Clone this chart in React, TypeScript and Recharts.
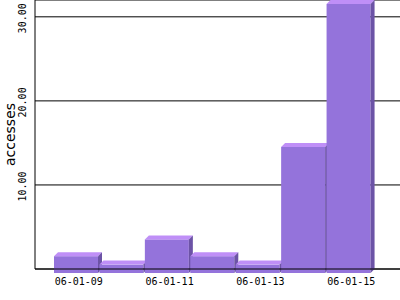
import React from 'react';
import { BarChart, Bar, XAxis, YAxis, CartesianGrid } from 'recharts';

const dates = ['06-01-09', '06-01-10', '06-01-11', '06-01-12', '06-01-13', '06-01-14', '06-01-15'];
const accesses = [2, 1, 4, 2, 1, 15, 32];
const yTicks = [10, 20, 30];

const data = dates.map((d, i) => ({ date: d, accesses: accesses[i] }));

const FRONT = '#9473DB';
const TOP = '#BF8FF7';
const SIDE = '#6C53A6';
const D = 4;

const Bar3D = (props: any) => {
  const { x, y, width, height } = props;
  if (height == null || height <= 0) return null;
  const w = width - 1;
  return (
    <g>
      <rect x={x - D} y={y + D} width={w} height={height} fill={FRONT} />
      <polygon
        points={`${x - D},${y + D} ${x},${y} ${x + w},${y} ${x + w - D},${y + D}`}
        fill={TOP}
      />
      <polygon
        points={`${x + w - D},${y + D} ${x + w},${y} ${x + w},${y + height} ${x + w - D},${y + height + D}`}
        fill={SIDE}
      />
    </g>
  );
};

const XTick = (props: any) => {
  const { x, payload } = props;
  return (
    <text x={x - 2} y={285} textAnchor="middle" fontFamily="DejaVu Sans Mono" fontSize={10} fill="#000">
      {payload.value}
    </text>
  );
};

const YTick = (props: any) => {
  const { y, payload } = props;
  const cx = 26;
  const cy = y + 1.5;
  return (
    <text
      x={cx}
      y={cy}
      textAnchor="middle"
      fontFamily="DejaVu Sans Mono"
      fontSize={10}
      fill="#000"
      transform={`rotate(-90, ${cx}, ${cy})`}
    >
      {Number(payload.value).toFixed(2)}
    </text>
  );
};

const YLabel = (props: any) => {
  const vb = props.viewBox || { x: 0, y: 0, width: 35, height: 269 };
  const cx = 15;
  const cy = vb.y + vb.height / 2;
  return (
    <text
      x={cx}
      y={cy}
      textAnchor="middle"
      fontFamily="DejaVu Sans"
      fontSize={14}
      fill="#000"
      transform={`rotate(-90, ${cx}, ${cy})`}
    >
      accesses
    </text>
  );
};

export default function App() {
  return (
    <div style={{ position: 'absolute', left: 0, top: 0, width: 400, height: 300, background: '#fff' }}>
      <BarChart
        width={400}
        height={300}
        data={data}
        margin={{ top: 0, right: 0, left: 0, bottom: 0 }}
        barCategoryGap={0}
        barGap={0}
      >
        <CartesianGrid horizontal vertical={false} stroke="#000" strokeWidth={1} />
        <Bar dataKey="accesses" shape={<Bar3D />} isAnimationActive={false} />
        <YAxis
          width={35}
          domain={[0, 32]}
          ticks={yTicks}
          tick={<YTick />}
          tickLine={false}
          axisLine={{ stroke: '#000' }}
          label={<YLabel />}
        />
        <XAxis
          dataKey="date"
          height={31}
          interval={1}
          padding={{ left: 23, right: 24 }}
          tick={<XTick />}
          tickLine={false}
          axisLine={{ stroke: '#000' }}
        />
      </BarChart>
    </div>
  );
}
